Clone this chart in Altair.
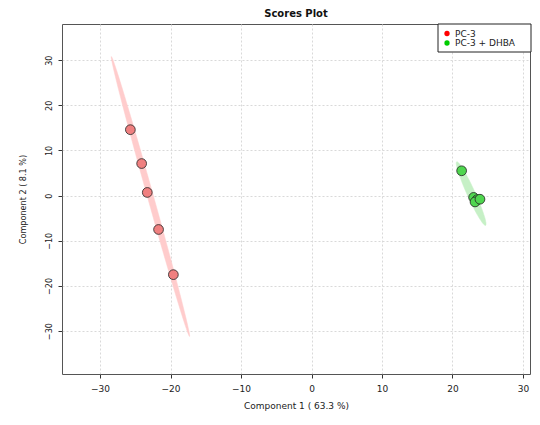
import altair as alt
import pandas as pd
import numpy as np

# Scores
groups = ["PC-3"] * 5 + ["PC-3 + DHBA"] * 5
comp1 = [-25.7, -24.1, -23.3, -21.7, -19.6, 21.3, 23.0, 23.5, 23.2, 23.9]
comp2 = [14.6, 7.1, 0.7, -7.5, -17.5, 5.5, -0.4, -0.9, -1.4, -0.8]

# 95% confidence ellipses: center, semi-major vector, semi-minor vector (data units)
ell_groups = ["PC-3", "PC-3 + DHBA"]
ell_cx = [-22.85, 22.65]
ell_cy = [-0.2, 0.45]
ell_ax = [-5.55, -2.05]
ell_ay = [31.0, 7.05]
ell_bx = [0.41, 0.52]
ell_by = [0.18, 0.37]

x_ticks = [-30, -20, -10, 0, 10, 20, 30]
y_ticks = [-30, -20, -10, 0, 10, 20, 30]

pts = pd.DataFrame({"group": groups, "c1": comp1, "c2": comp2})

rows = []
for g, cx, cy, ax_, ay_, bx, by in zip(ell_groups, ell_cx, ell_cy, ell_ax, ell_ay, ell_bx, ell_by):
    for i, t in enumerate(np.linspace(0, 2 * np.pi, 73)):
        rows.append({"group": g, "i": i,
                     "x": cx + np.cos(t) * ax_ + np.sin(t) * bx,
                     "y": cy + np.cos(t) * ay_ + np.sin(t) * by})
ell = pd.DataFrame(rows)

xs = alt.Scale(domain=[-35.4, 31.0], nice=False, zero=False)
ys = alt.Scale(domain=[-39.5, 38.0], nice=False, zero=False)

xaxis = alt.Axis(values=x_ticks, title="Component 1 ( 63.3 %)", grid=True,
                 gridDash=[2, 2], gridColor="#d9d9d9", domain=False,
                 tickColor="#333", tickSize=4, labelFontSize=9, labelFont="DejaVu Sans",
                 labelColor="#222", titleFont="DejaVu Sans", titleFontSize=9,
                 titleFontWeight="normal", titleColor="#222", labelPadding=6, titlePadding=8)
yaxis = alt.Axis(values=y_ticks, title="Component 2 ( 8.1 %)", grid=True,
                 gridDash=[2, 2], gridColor="#d9d9d9", domain=False,
                 tickColor="#333", tickSize=4, labelFontSize=9, labelFont="DejaVu Sans Condensed",
                 labelColor="#222", labelAngle=-90, labelAlign="center", labelBaseline="bottom",
                 labelPadding=5, titleFont="DejaVu Sans Condensed", titleFontSize=9,
                 titleFontWeight="normal", titleColor="#222", titlePadding=17)

ell_colors = ["#ffcccc", "#c6f0c6"]
pt_colors = ["#f08080", "#4fd64f"]
key_colors = ["#ff0000", "#00cc00"]

ellipse = alt.Chart(ell).mark_line(strokeWidth=0.5).encode(
    x=alt.X("x:Q", scale=xs, axis=xaxis),
    y=alt.Y("y:Q", scale=ys, axis=yaxis),
    order="i:Q",
    detail="group:N",
    fill=alt.Fill("group:N", scale=alt.Scale(domain=ell_groups, range=ell_colors), legend=None),
    stroke=alt.Stroke("group:N", scale=alt.Scale(domain=ell_groups, range=ell_colors), legend=None),
)

points = alt.Chart(pts).mark_point(filled=True, size=95, stroke="#222", strokeWidth=0.8, opacity=1).encode(
    x=alt.X("c1:Q", scale=xs),
    y=alt.Y("c2:Q", scale=ys),
    color=alt.Color("group:N", scale=alt.Scale(domain=ell_groups, range=pt_colors), legend=None),
    stroke=alt.value("#222"),
)

one = pd.DataFrame({"k": [0]})
legend_box = alt.Chart(one).mark_rect(fill="white", stroke="#222", strokeWidth=1).encode(
    x=alt.value(376), x2=alt.value(469), y=alt.value(0), y2=alt.value(28)
)
leg_layers = [legend_box]
for k, (g, c) in enumerate(zip(ell_groups, key_colors)):
    yy = 9.5 + 9.5 * k
    leg_layers.append(alt.Chart(one).mark_point(filled=True, size=28, shape="circle", opacity=1, color=c).encode(
        x=alt.value(385), y=alt.value(yy)))
    leg_layers.append(alt.Chart(one).mark_text(align="left", baseline="middle", fontSize=9,
                                              font="DejaVu Sans", color="#222", text=g).encode(
        x=alt.value(393), y=alt.value(yy)))

chart = alt.layer(ellipse, points, *leg_layers).resolve_scale(
    color="independent", fill="independent", stroke="independent"
).properties(
    width=468, height=350,
    title=alt.TitleParams("Scores Plot", fontSize=10, font="DejaVu Sans", fontWeight="bold",
                          anchor="middle", offset=5, color="#111"),
    autosize="none",
    padding={"left": 54, "top": 16, "right": 2, "bottom": 43},
).configure_view(stroke="#555", strokeWidth=1)

chart.save("out.html", embed_options={"renderer": "svg", "actions": False})
